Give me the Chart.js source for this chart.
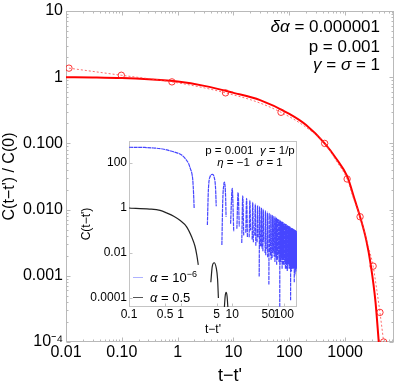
<!DOCTYPE html>
<html>
<head>
<meta charset="utf-8">
<script src="https://cdn.jsdelivr.net/npm/chart.js@4.4.0/dist/chart.umd.min.js"></script>
<style>
  body { margin: 0; background: #fff; }
  #wrap { position: relative; width: 399px; height: 387px; font-family: "Liberation Sans", Arial, sans-serif; color: #000; }
  #main { position: absolute; left: 0; top: 0; }
  #inset { position: absolute; left: 76px; top: 136px; }
  .note { position: absolute; white-space: nowrap; }
  .big { font-size: 17px; line-height: 20px; right: 19px; text-align: right; }
  .small { font-size: 11.5px; line-height: 12px; left: 200px; width: 100px; text-align: center; }
  .key { position: absolute; left: 133px; width: 10px; height: 0; }
  .keytext { position: absolute; left: 150px; font-size: 13px; line-height: 14px; }
  sup { font-size: 9px; line-height: 0; }
</style>
</head>
<body>
<div id="wrap">
  <canvas id="main" width="399" height="387"></canvas>
  <canvas id="inset" width="224" height="204"></canvas>

  <div class="note big" style="top:17px"><i>δα</i> = 0.000001</div>
  <div class="note big" style="top:37px">p = 0.001</div>
  <div class="note big" style="top:55px"><i>γ</i> = <i>σ</i> = 1</div>

  <div class="note small" style="top:144px">p = 0.001&nbsp; <i>γ</i> = 1/p</div>
  <div class="note small" style="top:156px"><i>η</i> = −1&nbsp; <i>σ</i> = 1</div>

  <div class="key" style="top:277px; border-top:1.5px solid #aeb2ff"></div>
  <div class="note keytext" style="top:271px"><i>α</i> = 10<sup>−6</sup></div>
  <div class="key" style="top:297px; border-top:1.5px solid #555"></div>
  <div class="note keytext" style="top:291px"><i>α</i> = 0.5</div>
</div>

<script>
// ---- main panel: C(t-t')/C(0)
const solidT = [0.01, 0.03, 0.1, 0.3, 1, 3, 10, 30, 100, 200, 430, 700, 1085, 1500, 1850, 2400, 2900, 3500, 4000];
const solidC = [1.0, 0.99, 0.97, 0.93, 0.86, 0.74, 0.58, 0.45, 0.28, 0.19, 0.10, 0.058, 0.032, 0.0137, 0.0078, 0.0034, 0.0014, 0.0004, 0.0001];

// dotted curve, and the circles sitting on it
const dotLineT = [0.0113, 0.098, 0.79, 3, 7.2, 25, 71, 200, 430, 700, 1085, 1400, 1850, 2500, 3170, 3700, 4200, 4900];
const dotLineC = [1.37, 1.07, 0.85, 0.69, 0.58, 0.43, 0.295, 0.175, 0.1, 0.054, 0.029, 0.015, 0.0078, 0.0031, 0.0014, 0.0006, 0.00028, 0.0001];
const markT = [0.0113, 0.098, 0.79, 7.2, 71, 430, 1085, 1850, 3170, 4200, 4900];
const markC = [1.37, 1.07, 0.85, 0.58, 0.295, 0.1, 0.029, 0.0078, 0.0014, 0.00028, 0.0001];

const mainXTicks = [0.01, 0.1, 1, 10, 100, 1000];
const mainXLabels = ['0.01', '0.10', '1', '10', '100', '1000'];
const mainYTicks = [0.0001, 0.001, 0.01, 0.1, 1, 10];
const mainYLabels = ['10⁻⁴', '0.001', '0.010', '0.100', '1', '10'];

// ---- inset: alpha = 1e-6 (blue), start and first two lobes (null = negative part, not drawn)
const blueHeadT = [0.1, 0.2, 0.3, 0.45, 0.62, 0.8, 1.05, 1.25, 1.42, 1.55, 1.65, 1.72, 1.77, 1.83, 2.5,
  3.3, 3.45, 3.7, 4.14, 4.5, 4.75, 4.9, 5.5, 6.3, 6.55, 6.8, 7.0, 7.25, 7.45, 7.6];
const blueHeadC = [500, 490, 465, 420, 350, 295, 225, 150, 97, 55, 35, 18, 6.3, 1.0, null,
  0.175, 6, 24, 31.5, 22, 8, 1.2, null, 0.023, 2, 9, 14, 10, 3, 0.41];

// later positive lobes: peak time, lobe edges and values
const lobeT = [10, 13, 16, 19, 22, 25, 28, 31, 34, 37,
  40, 44, 48, 52, 56, 60, 64, 68, 72, 76, 80, 84, 88, 92, 96, 100, 104, 108, 112, 116,
  120, 124, 128, 132, 136, 140, 144, 148, 152, 156, 160, 164, 168, 172, 176];
const lobeTL = [9.3, 12.3, 15.3, 18.3, 21.3, 24.3, 27.3, 30.3, 33.3, 36.3,
  39.3, 43.3, 47.3, 51.3, 55.3, 59.3, 63.3, 67.3, 71.3, 75.3, 79.3, 83.3, 87.3, 91.3, 95.3, 99.3, 103.3, 107.3, 111.3, 115.3,
  119.3, 123.3, 127.3, 131.3, 135.3, 139.3, 143.3, 147.3, 151.3, 155.3, 159.3, 163.3, 167.3, 171.3, 175.3];
const lobeTR = [10.7, 13.7, 16.7, 19.7, 22.7, 25.7, 28.7, 31.7, 34.7, 37.7,
  40.7, 44.7, 48.7, 52.7, 56.7, 60.7, 64.7, 68.7, 72.7, 76.7, 80.7, 84.7, 88.7, 92.7, 96.7, 100.7, 104.7, 108.7, 112.7, 116.7,
  120.7, 124.7, 128.7, 132.7, 136.7, 140.7, 144.7, 148.7, 152.7, 156.7, 160.7, 164.7, 168.7, 172.7, 176.7];
const lobePeak = [7.4, 4.9, 3.5, 2.7, 2.2, 1.8, 1.5, 1.29, 1.12, 0.98,
  0.87, 0.75, 0.66, 0.58, 0.52, 0.47, 0.43, 0.39, 0.355, 0.33, 0.30, 0.28, 0.26, 0.245, 0.23, 0.215, 0.2, 0.19, 0.18, 0.17,
  0.162, 0.154, 0.147, 0.14, 0.134, 0.128, 0.123, 0.118, 0.113, 0.109, 0.104, 0.1, 0.097, 0.094, 0.09];
const lobeFootL = [0.2, 0.12, 0.028, 0.08, 0.05, 0.04, 0.06, 0.03, 0.0009, 0.02,
  0.012, 0.01, 0.015, 0.0004, 0.008, 0.006, 0.012, 0.004, 0.006, 0.005, 0.009, 0.00001, 0.004, 0.007, 0.003, 0.003, 0.006, 0.002, 0.004, 0.004,
  0.002, 0.005, 0.003, 0.002, 0.00008, 0.003, 0.002, 0.004, 0.002, 0.003, 0.0005, 0.002, 0.003, 0.0015, 0.002];
const lobeFootR = [0.09, 0.15, 0.06, 0.05, 0.1, 0.03, 0.02, 0.05, 0.02, 0.015,
  0.03, 0.008, 0.006, 0.01, 0.005, 0.01, 0.007, 0.009, 0.003, 0.008, 0.004, 0.003, 0.006, 0.002, 0.005, 0.005, 0.003, 0.004, 0.002, 0.0015,
  0.004, 0.003, 0.002, 0.004, 0.002, 0.0015, 0.003, 0.002, 0.003, 0.002, 0.002, 0.001, 0.002, 0.003, 0.002];

// alpha = 0.5 (black)
const blackT = [0.1, 0.25, 0.4, 0.54, 0.75, 1.0, 1.3, 1.65, 1.9, 2.06, 2.2, 2.25,
  3.85, 4.1, 4.47, 4.9, 5.2, 5.4, 5.5, 7.0, 7.3, 7.6, 7.95, 8.3];
const blackC = [1.0, 0.9, 0.78, 0.6, 0.42, 0.27, 0.15, 0.05, 0.02, 0.008, 0.003, null,
  0.0005, 0.0025, 0.0037, 0.0022, 0.0007, 0.0001, null, 0.00003, 0.00012, 0.00018, 0.00012, 0.00003];

const insetXTicks = [0.1, 0.5, 1, 5, 10, 50, 100];
const insetXLabels = ['0.1', '0.5', '1', '5', '10', '50', '100'];
const insetYTicks = [0.0001, 0.01, 1, 100];
const insetYLabels = ['0.0001', '0.01', '1', '100'];

function pts(ts, cs) {
  return ts.map((t, i) => ({x: t, y: cs[i]}));
}

var bluePts = pts(blueHeadT, blueHeadC);
for (var i = 0; i < lobeT.length; i++) {
  bluePts.push({x: lobeTL[i], y: null});
  bluePts.push({x: lobeTL[i], y: lobeFootL[i]}, {x: lobeT[i], y: lobePeak[i]}, {x: lobeTR[i], y: lobeFootR[i]});
}

// minor tick positions 2..9 x 10^k
function minorTicks(lo, hi) {
  var out = [];
  for (var k = lo; k <= hi; k++) {
    for (var m = 2; m <= 9; m++) out.push(m * Math.pow(10, k));
  }
  return out;
}

// grey frame with inward ticks on the chart area
const frameTicks = {
  id: 'frameTicks',
  beforeDatasetsDraw(chart, args, opts) {
    const {ctx, chartArea: a} = chart;
    const xs = chart.scales.x, ys = chart.scales.y;
    const L = Math.round(a.left) + 0.5, R = Math.round(a.right) - 0.5;
    const T = Math.round(a.top) + 0.5, B = Math.round(a.bottom) - 0.5;
    ctx.save();
    ctx.strokeStyle = opts.color;
    ctx.lineWidth = 1;
    ctx.strokeRect(L, T, R - L, B - T);
    ctx.beginPath();
    const markX = (list, len) => list.forEach(v => {
      if (v < xs.min || v > xs.max) return;
      const p = Math.round(xs.getPixelForValue(v)) + 0.5;
      ctx.moveTo(p, B); ctx.lineTo(p, B - len);
      if (opts.mirror) { ctx.moveTo(p, T); ctx.lineTo(p, T + len); }
    });
    const markY = (list, len) => list.forEach(v => {
      if (v < ys.min || v > ys.max) return;
      const p = Math.round(ys.getPixelForValue(v)) + 0.5;
      ctx.moveTo(L, p); ctx.lineTo(L + len, p);
      if (opts.mirror) { ctx.moveTo(R, p); ctx.lineTo(R - len, p); }
    });
    markX(opts.xMajor, opts.majorLen);
    markY(opts.yMajor, opts.majorLen);
    if (opts.xMinor) markX(opts.xMinor, opts.minorLen);
    if (opts.yMinor) markY(opts.yMinor, opts.minorLen);
    ctx.stroke();
    ctx.restore();
  }
};

const FONT = '"Liberation Sans", Arial, sans-serif';

new Chart(document.getElementById('main'), {
  type: 'line',
  data: {
    datasets: [
      {
        data: pts(dotLineT, dotLineC),
        borderColor: 'rgba(255, 70, 70, 0.8)',
        borderWidth: 1,
        borderDash: [2, 2],
        pointRadius: 0,
        cubicInterpolationMode: 'monotone'
      },
      {
        data: pts(markT, markC),
        showLine: false,
        pointRadius: 3.2,
        pointBorderColor: 'rgba(255, 20, 20, 0.85)',
        pointBackgroundColor: 'rgba(0,0,0,0)',
        pointBorderWidth: 1
      },
      {
        data: pts(solidT, solidC),
        borderColor: '#ff0000',
        borderWidth: 2,
        pointRadius: 0,
        cubicInterpolationMode: 'monotone'
      }
    ]
  },
  options: {
    responsive: false,
    animation: false,
    layout: {padding: {top: 11, right: 2, left: 0, bottom: 0}},
    plugins: {
      legend: {display: false},
      tooltip: {enabled: false},
      frameTicks: {
        color: '#b9b9b9', mirror: true, majorLen: 4, minorLen: 2,
        xMajor: mainXTicks, yMajor: mainYTicks,
        xMinor: minorTicks(-2, 3), yMinor: minorTicks(-4, 0)
      }
    },
    scales: {
      x: {
        type: 'logarithmic', min: 0.01, max: 7500,
        grid: {display: false, drawTicks: false},
        border: {display: false},
        ticks: {autoSkip: false, maxRotation: 0, padding: 1, color: '#000', font: {family: FONT, size: 16},
          callback: (v, i) => mainXLabels[i]},
        title: {display: true, text: "t−t'", color: '#000', font: {family: FONT, size: 18}, padding: {top: 0, bottom: 0}},
        afterBuildTicks: s => { s.ticks = mainXTicks.map(v => ({value: v})); },
        afterFit: s => { s.height = 45; s.paddingLeft = 0; s.paddingRight = 0; }
      },
      y: {
        type: 'logarithmic', min: 0.0001, max: 10,
        grid: {display: false, drawTicks: false},
        border: {display: false},
        ticks: {autoSkip: false, padding: 3, color: '#000', font: {family: FONT, size: 16},
          callback: (v, i) => mainYLabels[i]},
        title: {display: true, text: "C(t−t') / C(0)", color: '#000', font: {family: FONT, size: 16}, padding: {top: 0, bottom: 0}},
        afterBuildTicks: s => { s.ticks = mainYTicks.map(v => ({value: v})); },
        afterFit: s => { s.width = 66; s.paddingTop = 0; s.paddingBottom = 0; }
      }
    }
  },
  plugins: [frameTicks]
});

new Chart(document.getElementById('inset'), {
  type: 'line',
  data: {
    datasets: [
      {
        data: bluePts,
        borderColor: 'rgb(70, 70, 255)',
        borderWidth: 1.2,
        borderDash: [4, 0.6],
        pointRadius: 0,
        spanGaps: false,
        cubicInterpolationMode: 'monotone'
      },
      {
        data: pts(blackT, blackC),
        borderColor: '#222',
        borderWidth: 1.2,
        pointRadius: 0,
        spanGaps: false,
        cubicInterpolationMode: 'monotone'
      }
    ]
  },
  options: {
    responsive: false,
    animation: false,
    layout: {padding: {top: 5, right: 3, left: 0, bottom: 0}},
    plugins: {
      legend: {display: false},
      tooltip: {enabled: false},
      frameTicks: {color: '#c4c4c4', mirror: false, majorLen: 3, xMajor: insetXTicks, yMajor: insetYTicks}
    },
    scales: {
      x: {
        type: 'logarithmic', min: 0.1, max: 180,
        grid: {display: false, drawTicks: false},
        border: {display: false},
        ticks: {autoSkip: false, maxRotation: 0, padding: 0, color: '#000', font: {family: FONT, size: 12},
          callback: (v, i) => insetXLabels[i]},
        title: {display: true, text: "t−t'", color: '#000', font: {family: FONT, size: 12}, padding: {top: 0, bottom: 3}},
        afterBuildTicks: s => { s.ticks = insetXTicks.map(v => ({value: v})); },
        afterFit: s => { s.height = 33; s.paddingLeft = 0; s.paddingRight = 0; }
      },
      y: {
        type: 'logarithmic', min: 0.00004, max: 950,
        grid: {display: false, drawTicks: false},
        border: {display: false},
        ticks: {autoSkip: false, padding: 2, color: '#000', font: {family: FONT, size: 12},
          callback: (v, i) => insetYLabels[i]},
        title: {display: true, text: "C(t−t')", color: '#000', font: {family: FONT, size: 12}, padding: {top: 3, bottom: 0}},
        afterBuildTicks: s => { s.ticks = insetYTicks.map(v => ({value: v})); },
        afterFit: s => { s.width = 53; s.paddingTop = 0; s.paddingBottom = 0; }
      }
    }
  },
  plugins: [frameTicks]
});
</script>
</body>
</html>
